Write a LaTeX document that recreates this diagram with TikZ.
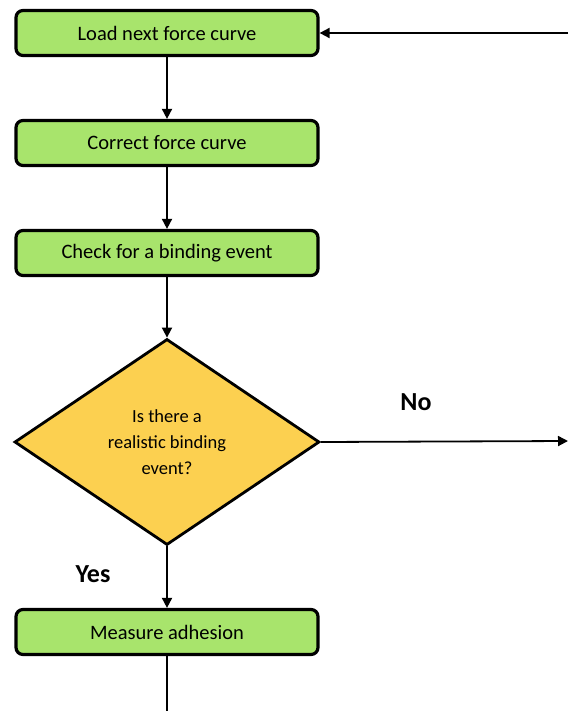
\documentclass[tikz,border=0pt]{standalone}
\usepackage{fontspec}
\setmainfont{Carlito}
\usetikzlibrary{shapes.geometric,arrows.meta}
\definecolor{boxgreen}{RGB}{168,228,108}
\definecolor{diayellow}{RGB}{252,208,80}
\tikzset{
  stepbox/.style={draw=black, line width=3.2pt, rounded corners=7pt, fill=boxgreen,
    minimum width=302pt, minimum height=45pt, font=\fontsize{20.5}{24}\selectfont, inner sep=0pt},
  decision/.style={draw=black, line width=2.8pt, fill=diayellow, diamond,
    minimum width=305pt, minimum height=206pt, inner sep=0pt, align=center,
    font=\fontsize{18.5}{26}\selectfont},
  conn/.style={line width=1.8pt, -{Triangle[width=10pt,length=10pt]}},
  plain/.style={line width=1.8pt},
  lbl/.style={font=\fontsize{26}{30}\selectfont\bfseries}
}
\begin{document}
\begin{tikzpicture}[x=1pt,y=-1pt]
\useasboundingbox (0,0) rectangle (568,711);
\node[stepbox] (load) at (167,33) {Load next force curve};
\node[stepbox] (corr) at (167,143) {Correct force curve};
\node[stepbox] (check) at (167,253) {Check for a binding event};
\node[decision] (dec) at (167,442) {Is there a\\realistic binding\\event?};
\node[stepbox] (meas) at (167,632) {Measure adhesion};
\coordinate (inR) at (568,33);
\coordinate (outR) at (568,441);
\coordinate (bot) at (167,711);
\draw[conn] (load) -- (corr);
\draw[conn] (corr) -- (check);
\draw[conn] (check) -- (dec);
\draw[conn] (dec) -- (meas);
\draw[conn] (dec.east) -- (outR);
\draw[conn] (inR) -- (load);
\draw[plain] (meas) -- (bot);
\node[lbl] (no) at (416,402) {No};
\node[lbl] (yes) at (93,574) {Yes};
\end{tikzpicture}
\end{document}
